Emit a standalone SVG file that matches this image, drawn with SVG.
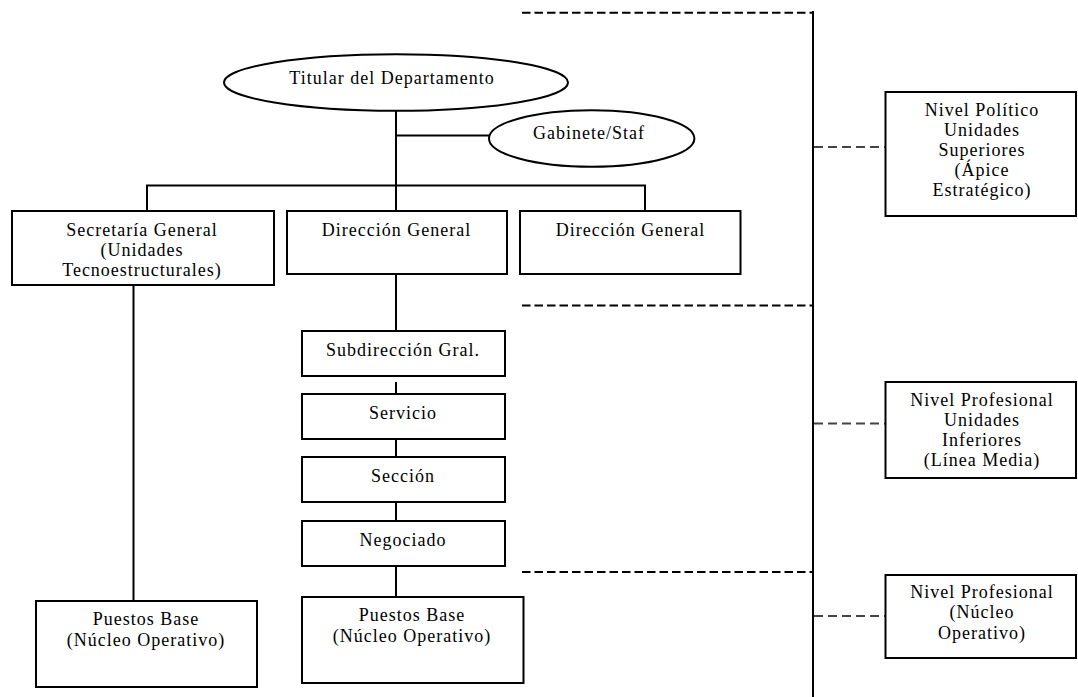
<svg xmlns="http://www.w3.org/2000/svg" width="1078" height="697" viewBox="0 0 1078 697">
<style>
.n{fill:#fff;stroke:#000;stroke-width:2}
.c{fill:none;stroke:#000;stroke-width:2}
.d{fill:none;stroke:#000;stroke-width:2;stroke-dasharray:8.5 4}
.s{fill:none;stroke:#444;stroke-width:1.8;stroke-dasharray:9 5}
text{font-family:"Liberation Serif","Times New Roman",serif;font-size:18px;letter-spacing:1px;fill:#000;text-anchor:middle}
</style>
<rect width="1078" height="697" fill="#fff"/>
<g id="connectors">
<line class="c" x1="396" y1="110" x2="396" y2="211"/>
<line class="c" x1="396" y1="135.5" x2="489" y2="135.5"/>
<polyline class="c" points="147,211 147,185.5 645,185.5 645,211"/>
<line class="c" x1="133.5" y1="285" x2="133.5" y2="601"/>
<line class="c" x1="396" y1="274" x2="396" y2="331"/>
<line class="c" x1="396" y1="382" x2="396" y2="394"/>
<line class="c" x1="396" y1="433" x2="396" y2="457"/>
<line class="c" x1="396" y1="497" x2="396" y2="521"/>
<line class="c" x1="396" y1="560" x2="396" y2="597"/>
<line class="c" x1="813" y1="11" x2="813" y2="697"/>
<line class="d" x1="522" y1="12.7" x2="813" y2="12.7"/>
<line class="d" x1="522" y1="305.5" x2="813" y2="305.5"/>
<line class="d" x1="522" y1="572" x2="813" y2="572"/>
<line class="s" x1="814" y1="147" x2="885" y2="147"/>
<line class="s" x1="814" y1="423.5" x2="885" y2="423.5"/>
<line class="s" x1="814" y1="616" x2="885" y2="616"/>
</g>
<g id="titular"><ellipse class="n" cx="396" cy="82.5" rx="172" ry="28.3"/><text x="392" y="83.5">Titular del Departamento</text></g>
<g id="gabinete"><ellipse class="n" cx="591.7" cy="138.5" rx="102.7" ry="28.3"/><text x="589" y="138.5">Gabinete/Staf</text></g>
<g id="secretaria"><rect class="n" x="12" y="211" width="262" height="74"/><text x="142" y="235.5">Secretaría General</text><text x="142" y="255.5">(Unidades</text><text x="142" y="275.5">Tecnoestructurales)</text></g>
<g id="dg1"><rect class="n" x="287" y="211" width="220" height="63"/><text x="396.5" y="235.5">Dirección General</text></g>
<g id="dg2"><rect class="n" x="520" y="211" width="220.5" height="63"/><text x="630.5" y="235.5">Dirección General</text></g>
<g id="subdireccion"><rect class="n" x="302" y="331" width="203" height="45"/><text x="403" y="356">Subdirección Gral.</text></g>
<g id="servicio"><rect class="n" x="302" y="394" width="203" height="45"/><text x="403" y="418.5">Servicio</text></g>
<g id="seccion"><rect class="n" x="302" y="457" width="203" height="45"/><text x="403" y="481.5">Sección</text></g>
<g id="negociado"><rect class="n" x="302" y="521" width="203" height="45"/><text x="403" y="546">Negociado</text></g>
<g id="puestos2"><rect class="n" x="302" y="597" width="221.5" height="86"/><text x="412" y="621">Puestos Base</text><text x="412" y="641.5">(Núcleo Operativo)</text></g>
<g id="puestos1"><rect class="n" x="36" y="601" width="221" height="86"/><text x="146" y="625">Puestos Base</text><text x="146" y="645.5">(Núcleo Operativo)</text></g>
<g id="nivel1"><rect class="n" x="885.5" y="92" width="190.5" height="124"/><text x="982" y="116">Nivel Político</text><text x="982" y="136">Unidades</text><text x="982" y="156">Superiores</text><text x="982" y="176">(Ápice</text><text x="982" y="196">Estratégico)</text></g>
<g id="nivel2"><rect class="n" x="885.5" y="382" width="190.5" height="96"/><text x="982" y="406">Nivel Profesional</text><text x="982" y="426">Unidades</text><text x="982" y="446">Inferiores</text><text x="982" y="466">(Línea Media)</text></g>
<g id="nivel3"><rect class="n" x="885.5" y="575" width="190.5" height="83"/><text x="982" y="598">Nivel Profesional</text><text x="982" y="618">(Núcleo</text><text x="982" y="639">Operativo)</text></g>
</svg>
